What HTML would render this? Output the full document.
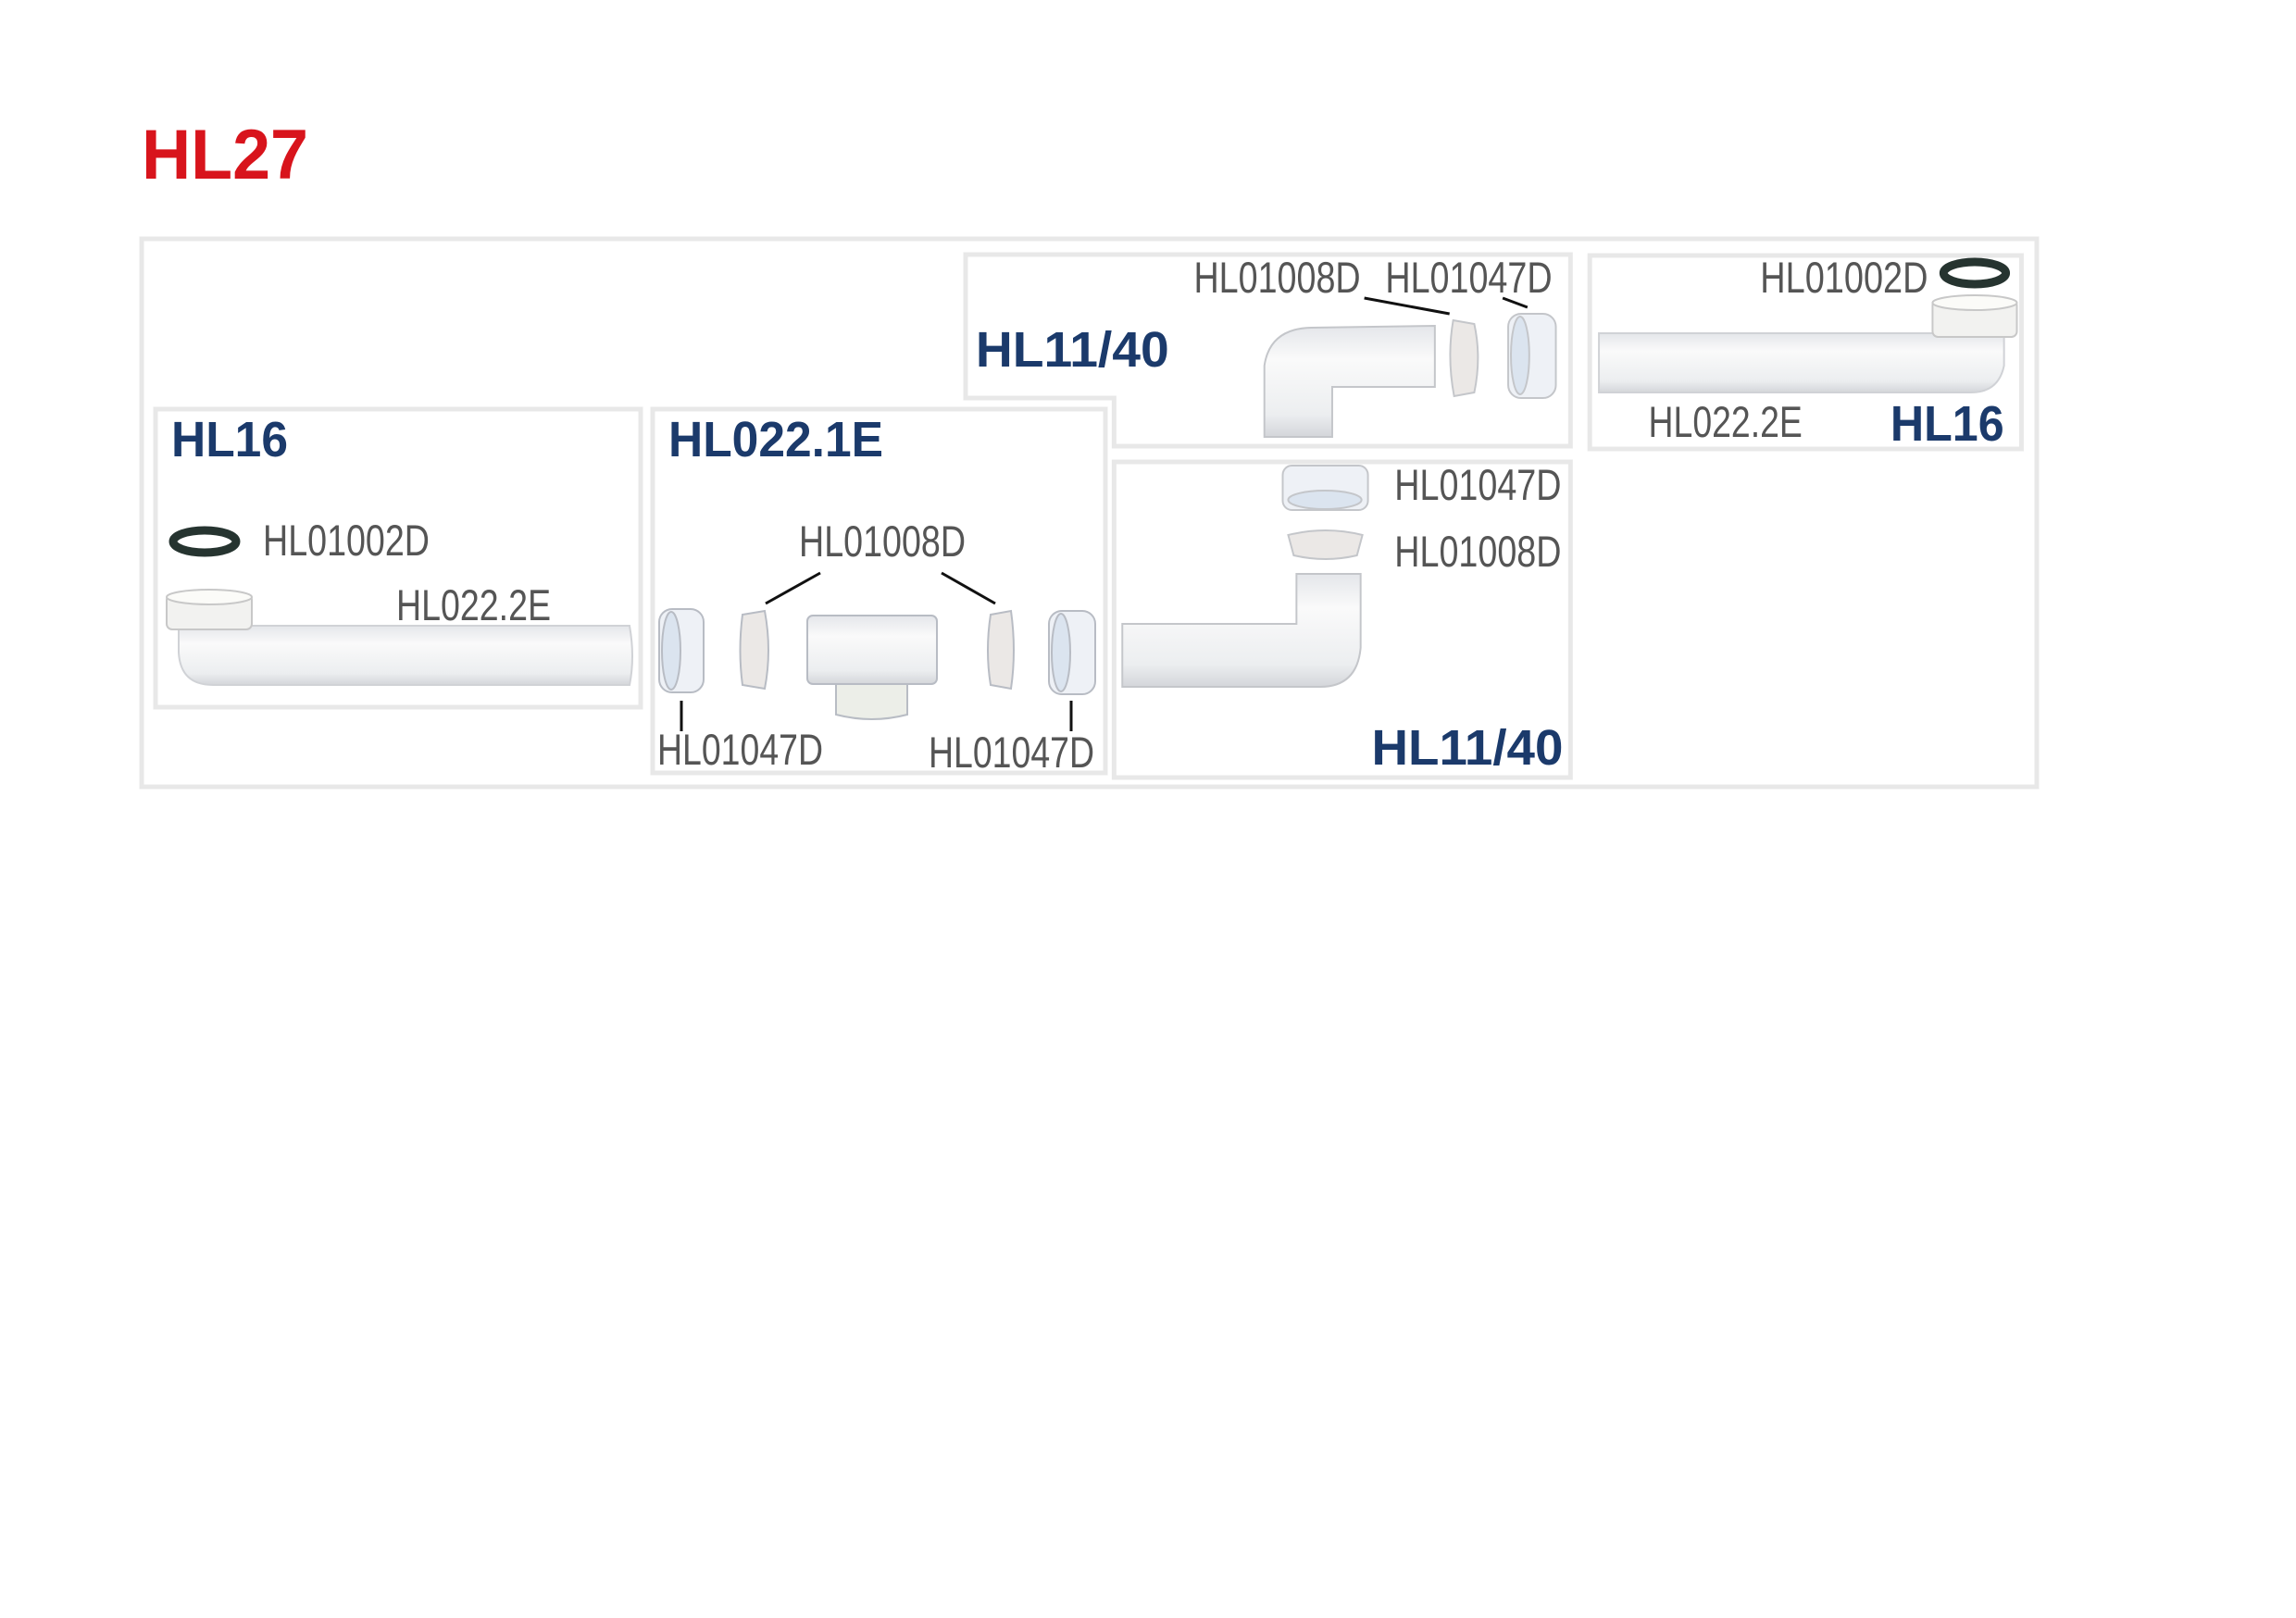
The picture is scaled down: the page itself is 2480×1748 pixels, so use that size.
<!DOCTYPE html>
<html><head><meta charset="utf-8"><style>
html,body{margin:0;padding:0;background:#fff;}
svg{display:block}
text{font-family:"Liberation Sans",sans-serif}
.g{fill:#555;font-size:47px}
.t{fill:#1b3a6b;font-size:54px;font-weight:bold}
</style></head><body>
<svg width="2480" height="1748" viewBox="0 0 2480 1748" xmlns="http://www.w3.org/2000/svg">
<defs>
<linearGradient id="pv" x1="0" y1="0" x2="0" y2="1">
<stop offset="0" stop-color="#e4e6ea"/><stop offset="0.3" stop-color="#fafafa"/><stop offset="0.8" stop-color="#eceef0"/><stop offset="1" stop-color="#d4d6da"/></linearGradient>
</defs>
<text x="153" y="193" font-size="76" font-weight="bold" fill="#d8141c" textLength="180" lengthAdjust="spacingAndGlyphs">HL27</text>

<g fill="none" stroke="#e8e8e8" stroke-width="5">
<rect x="153" y="258" width="2047" height="592"/>
<rect x="168" y="442" width="524" height="322"/>
<rect x="705" y="442" width="489" height="393"/>
</g>

<!-- HL16 left -->
<text class="t" x="185" y="493" textLength="126" lengthAdjust="spacingAndGlyphs">HL16</text>
<ellipse cx="221" cy="585" rx="34" ry="12" fill="none" stroke="#263430" stroke-width="9"/>
<text class="g" x="284" y="600" textLength="180" lengthAdjust="spacingAndGlyphs">HL01002D</text>
<text class="g" x="428" y="670" textLength="167" lengthAdjust="spacingAndGlyphs">HL022.2E</text>
<path d="M193 676 H680 Q686 710 680 740 H230 Q195 740 193 705 Z" fill="url(#pv)" stroke="#d0d2d6" stroke-width="2"/>
<rect x="180" y="642" width="92" height="38" rx="6" fill="#f2f2f0" stroke="#c8c8c8" stroke-width="2"/>
<ellipse cx="226" cy="645" rx="46" ry="8" fill="#fbfbf8" stroke="#c8c8c8" stroke-width="2"/>

<!-- HL022.1E -->
<text class="t" x="722" y="493" textLength="232" lengthAdjust="spacingAndGlyphs">HL022.1E</text>
<text class="g" x="863" y="601" textLength="180" lengthAdjust="spacingAndGlyphs">HL01008D</text>
<g stroke="#111" stroke-width="3">
<line x1="886" y1="619" x2="827" y2="652"/><line x1="1017" y1="619" x2="1075" y2="652"/>
<line x1="736" y1="757" x2="736" y2="790"/><line x1="1157" y1="757" x2="1157" y2="790"/>
</g>
<g stroke="#b8bcc4" stroke-width="2">
<rect x="712" y="658" width="48" height="90" rx="14" fill="#eef1f6"/>
<ellipse cx="725" cy="703" rx="10" ry="42" fill="#dbe4ef"/>
<path d="M802 664 L826 660 Q834 703 826 744 L802 740 Q797 703 802 664Z" fill="#ebe8e6"/>
<rect x="872" y="665" width="140" height="74" rx="6" fill="url(#pv)"/>
<path d="M903 739 H980 V772 Q942 782 903 772Z" fill="#eceee8"/>
<path d="M1070 664 L1092 660 Q1098 703 1092 744 L1070 740 Q1064 703 1070 664Z" fill="#ebe8e6"/>
<rect x="1133" y="660" width="50" height="90" rx="14" fill="#eef1f6"/>
<ellipse cx="1146" cy="705" rx="10" ry="42" fill="#dbe4ef"/>
</g>
<text class="g" x="710" y="826" textLength="179" lengthAdjust="spacingAndGlyphs">HL01047D</text>
<text class="g" x="1003" y="829" textLength="179" lengthAdjust="spacingAndGlyphs">HL01047D</text>

<g transform="translate(1040,0) scale(0.99,1) translate(-1040,0)">
<g fill="none" stroke="#e8e8e8" stroke-width="5">
<path d="M1043 275 H1703 V482 H1205 V430 H1043 Z"/>
<rect x="1205" y="499" width="498" height="341"/>
<rect x="1724" y="276" width="471" height="209"/>
</g>
<!-- HL11/40 top -->
<text class="t" x="1054" y="396" textLength="211" lengthAdjust="spacingAndGlyphs">HL11/40</text>
<text class="g" x="1292" y="316" textLength="182" lengthAdjust="spacingAndGlyphs">HL01008D</text>
<text class="g" x="1501" y="316" textLength="182" lengthAdjust="spacingAndGlyphs">HL01047D</text>
<g stroke="#111" stroke-width="3"><line x1="1478" y1="322" x2="1571" y2="339"/><line x1="1629" y1="322" x2="1656" y2="332"/></g>
<g stroke="#c4c6ca" stroke-width="2">
<path d="M1555 352 V418 H1443 V472 H1369 V395 Q1375 355 1420 354 Z" fill="url(#pv)"/>
<path d="M1575 346 L1598 350 Q1606 386 1598 424 L1576 428 Q1568 386 1575 346Z" fill="#ebe8e6"/>
<rect x="1635" y="339" width="52" height="91" rx="14" fill="#eef1f6"/>
<ellipse cx="1648" cy="384" rx="10" ry="42" fill="#dbe4ef"/>
</g>

<!-- HL16 right -->
<text class="g" x="1910" y="316" textLength="183" lengthAdjust="spacingAndGlyphs">HL01002D</text>
<ellipse cx="2144" cy="295" rx="34" ry="12" fill="none" stroke="#263430" stroke-width="9"/>
<path d="M1734 360 H2176 V395 Q2170 424 2140 424 H1734 Z" fill="url(#pv)" stroke="#d0d2d6" stroke-width="2"/>
<rect x="2098" y="324" width="92" height="40" rx="6" fill="#f2f2f0" stroke="#c8c8c8" stroke-width="2"/>
<ellipse cx="2144" cy="327" rx="46" ry="8" fill="#fbfbf8" stroke="#c8c8c8" stroke-width="2"/>
<text class="g" x="1788" y="472" textLength="168" lengthAdjust="spacingAndGlyphs">HL022.2E</text>
<text class="t" x="2052" y="476" textLength="124" lengthAdjust="spacingAndGlyphs">HL16</text>

<!-- HL11/40 bottom -->
<g stroke="#c4c6ca" stroke-width="2">
<rect x="1389" y="503" width="93" height="48" rx="10" fill="#eef1f6"/>
<ellipse cx="1435" cy="540" rx="40" ry="10" fill="#dbe4ef"/>
<path d="M1395 578 Q1436 568 1476 578 L1470 600 Q1436 608 1401 600Z" fill="#ebe8e6"/>
<path d="M1404 620 H1474 V700 Q1470 742 1430 742 H1214 V674 H1404 Z" fill="url(#pv)"/>
</g>
<text class="g" x="1511" y="540" textLength="182" lengthAdjust="spacingAndGlyphs">HL01047D</text>
<text class="g" x="1511" y="612" textLength="182" lengthAdjust="spacingAndGlyphs">HL01008D</text>
<text class="t" x="1486" y="826" textLength="209" lengthAdjust="spacingAndGlyphs">HL11/40</text>
</g>
</svg>
</body></html>
